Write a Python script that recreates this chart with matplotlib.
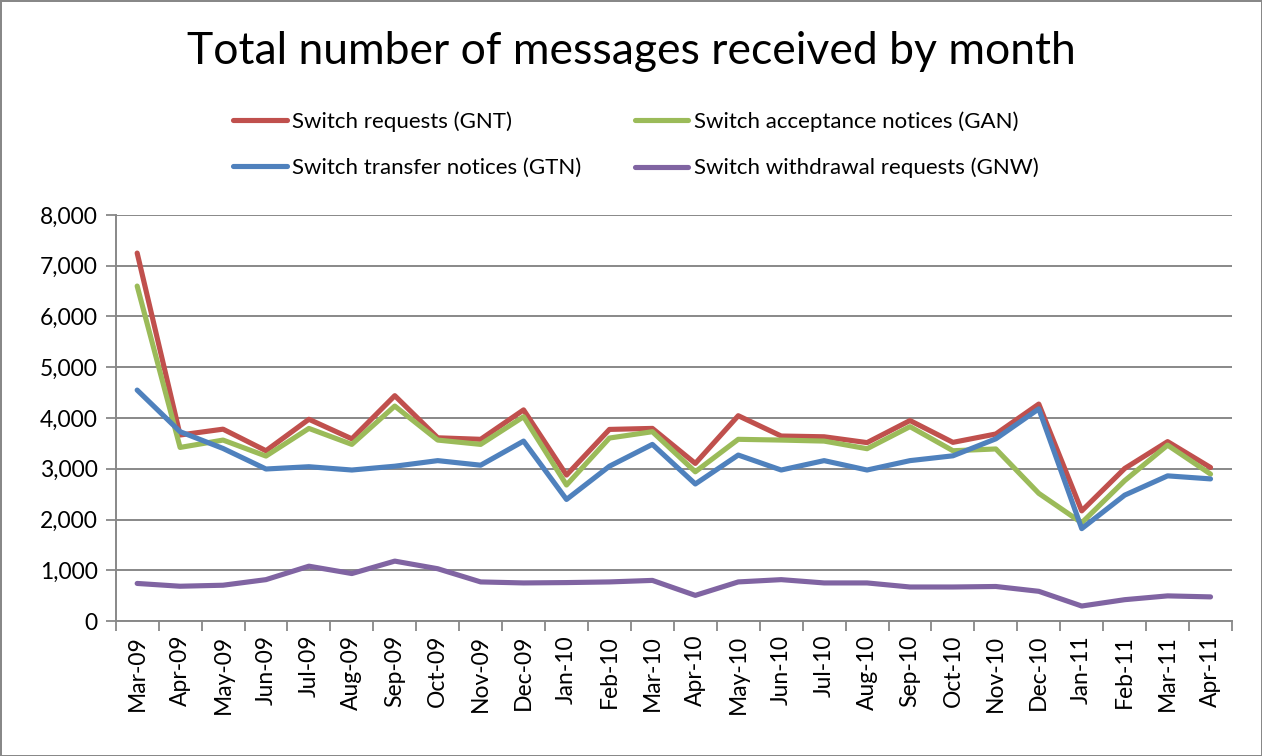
import matplotlib
matplotlib.use("Agg")
import matplotlib.pyplot as plt
from matplotlib.ticker import FuncFormatter, FixedLocator

months = ["Mar-09", "Apr-09", "May-09", "Jun-09", "Jul-09", "Aug-09", "Sep-09", "Oct-09",
          "Nov-09", "Dec-09", "Jan-10", "Feb-10", "Mar-10", "Apr-10", "May-10", "Jun-10",
          "Jul-10", "Aug-10", "Sep-10", "Oct-10", "Nov-10", "Dec-10", "Jan-11", "Feb-11",
          "Mar-11", "Apr-11"]

gnt = [7250, 3665, 3780, 3355, 3975, 3590, 4440, 3610, 3580, 4160, 2875, 3775, 3795,
       3105, 4045, 3645, 3630, 3515, 3950, 3520, 3685, 4275, 2170, 3005, 3535, 3025]
gan = [6600, 3420, 3565, 3250, 3795, 3480, 4235, 3565, 3480, 4025, 2680, 3605, 3730,
       2940, 3580, 3565, 3545, 3395, 3830, 3355, 3390, 2515, 1935, 2765, 3465, 2895]
gtn = [4550, 3730, 3400, 2995, 3040, 2975, 3050, 3160, 3070, 3545, 2395, 3050, 3480,
       2700, 3270, 2975, 3160, 2975, 3160, 3255, 3590, 4180, 1820, 2480, 2860, 2800]
gnw = [740, 685, 705, 815, 1080, 935, 1180, 1030, 770, 750, 757, 770, 800,
       505, 770, 815, 750, 750, 670, 670, 680, 585, 295, 420, 495, 475]

labels = ["Switch requests (GNT)", "Switch acceptance notices (GAN)",
          "Switch transfer notices (GTN)", "Switch withdrawal requests (GNW)"]
colors = ["#C0504D", "#9BBB59", "#4F81BD", "#8064A2"]

plt.rcParams['font.family'] = ['Lato', 'DejaVu Sans']

fig = plt.figure(figsize=(12.62, 7.56), dpi=100, edgecolor="#888888", linewidth=2)
ax = fig.add_axes([115.7 / 1262, 1 - 621 / 756, (1232 - 115.7) / 1262, (621 - 215) / 756])

x = list(range(len(months)))
handles = {}
for name, vals, col in zip(labels, [gnt, gan, gtn, gnw], colors):
    ln, = ax.plot(x, vals, color=col, linewidth=3.7, solid_joinstyle="round",
                  solid_capstyle="round", zorder=3)
    handles[name] = ln

ax.set_xlim(-0.5, len(months) - 0.5)
ax.set_ylim(0, 8000)
ax.set_yticks(range(0, 8001, 1000))
ax.yaxis.set_major_formatter(FuncFormatter(lambda v, p: f"{int(v):,}"))
ax.set_xticks(x)
ax.set_xticklabels(months, rotation=90, fontsize=16.5)
ax.xaxis.set_minor_locator(FixedLocator([i - 0.5 for i in range(len(months) + 1)]))
ax.tick_params(axis="x", which="major", length=0, pad=10)
ax.tick_params(axis="x", which="minor", length=7, width=1.3, color="#888888", direction="out")
ax.tick_params(axis="y", length=7, width=1.3, color="#888888", labelsize=16.5, pad=6)
ax.grid(axis="y", color="#888888", linewidth=1.4, zorder=0)
for s in ["top", "right"]:
    ax.spines[s].set_visible(False)
for s in ["left", "bottom"]:
    ax.spines[s].set_color("#888888")
    ax.spines[s].set_linewidth(1.4)

fig.text(0.5, 1 - 52 / 756, "Total number of messages received by month",
         ha="center", va="center", fontsize=32)

order = [labels[0], labels[2], labels[1], labels[3]]
leg = fig.legend([handles[k] for k in order], order, ncol=2, loc="center",
                 bbox_to_anchor=(0.504, 1 - 145 / 756), frameon=False, fontsize=16,
                 handlelength=2.4, handletextpad=0.25, labelspacing=1.15, columnspacing=2.4)

fig.savefig("out.png", dpi=100)
